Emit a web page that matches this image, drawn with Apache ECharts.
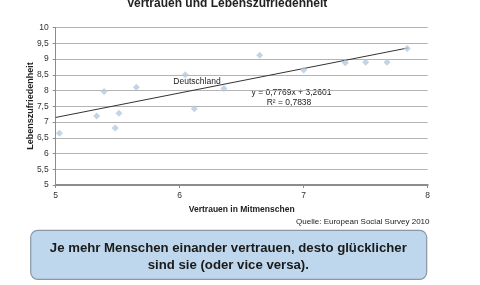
<!DOCTYPE html>
<html><head><meta charset="utf-8">
<script src="https://cdn.jsdelivr.net/npm/echarts@6/dist/echarts.min.js"></script>
<style>html,body{margin:0;padding:0;background:#fff}#c{width:480px;height:285px}</style>
</head><body><div id="c"></div>
<script>
const trustValues = [5.03, 5.33, 5.39, 5.51, 5.48, 5.65, 6.645, 6.045, 6.357, 6.118, 7.0, 7.335, 7.50, 7.672, 7.835];
const satisfactionValues = [6.64, 7.19, 7.97, 7.28, 6.81, 8.10, 9.12, 8.50, 8.06, 7.42, 8.65, 8.88, 8.90, 8.90, 9.33];
const xTicks = [5, 6, 7, 8];
const yTicks = [5, 5.5, 6, 6.5, 7, 7.5, 8, 8.5, 9, 9.5, 10];
const trendSlope = 0.7769, trendIntercept = 3.2601, rSquared = 0.7838;
const trendRange = [5, 7.84];
const titleText = 'Vertrauen und Lebenszufriedenheit';
const xName = 'Vertrauen in Mitmenschen';
const yName = 'Lebenszufriedenheit';
const sourceText = 'Quelle: European Social Survey 2010';
const highlightLabel = 'Deutschland';
const messageLines = ['Je mehr Menschen einander vertrauen, desto glücklicher', 'sind sie (oder vice versa).'];

const fmt = v => String(v).replace('.', ',');
const font = 'Liberation Sans, Arial, sans-serif';
const points = trustValues.map((x, i) => [x, satisfactionValues[i]]);
const trend = trendRange.map(x => [x, trendSlope * x + trendIntercept]);

const chart = echarts.init(document.getElementById('c'), null, {renderer: 'canvas'});
chart.setOption({
  animation: false,
  textStyle: {fontFamily: font},
  grid: {left: 55.7, right: 52.3, top: 27.5, bottom: 100},
  xAxis: {
    type: 'value', min: xTicks[0], max: xTicks[xTicks.length - 1], interval: 1,
    name: xName, nameLocation: 'middle', nameGap: 20,
    nameTextStyle: {fontSize: 8.5, fontWeight: 'bold', color: '#222', fontFamily: font},
    axisLine: {show: true, lineStyle: {color: '#8c8c8c', width: 2}},
    axisTick: {show: true, length: 3, lineStyle: {color: '#8c8c8c'}},
    axisLabel: {fontSize: 8.5, color: '#333', margin: 6, formatter: fmt},
    splitLine: {show: false}
  },
  yAxis: {
    type: 'value', min: yTicks[0], max: yTicks[yTicks.length - 1], interval: 0.5,
    axisLine: {show: true, lineStyle: {color: '#8c8c8c', width: 1}},
    axisTick: {show: true, length: 3, lineStyle: {color: '#8c8c8c'}},
    axisLabel: {fontSize: 8.5, color: '#333', margin: 7, formatter: fmt},
    splitLine: {show: true, lineStyle: {color: '#b4b4b4', width: 1}}
  },
  series: [
    {
      type: 'line', data: trend, symbol: 'none', silent: true,
      lineStyle: {color: '#333', width: 1}, z: 2
    },
    {
      type: 'scatter', data: points, symbol: 'diamond', symbolSize: 7,
      itemStyle: {color: '#b3c9de'}, z: 3
    }
  ],
  graphic: [
    {type: 'text', style: {x: 227, y: 9.5, text: titleText, align: 'center', verticalAlign: 'bottom', fill: '#222', font: 'bold 12px ' + font}},
    {type: 'text', x: 30.7, y: 106, rotation: Math.PI / 2, style: {x: 0, y: 0, text: yName, align: 'center', verticalAlign: 'middle', fill: '#222', font: 'bold 9px ' + font}},
    {type: 'text', style: {x: 197, y: 81.5, text: highlightLabel, align: 'center', verticalAlign: 'middle', fill: '#222', font: '8.5px ' + font}},
    {type: 'text', style: {x: 291.5, y: 92.5, text: 'y = ' + fmt(trendSlope) + 'x + ' + fmt(trendIntercept), align: 'center', verticalAlign: 'middle', fill: '#222', font: '8.5px ' + font}},
    {type: 'text', style: {x: 289, y: 102.5, text: 'R² = ' + fmt(rSquared), align: 'center', verticalAlign: 'middle', fill: '#222', font: '8.5px ' + font}},
    {type: 'text', style: {x: 429.5, y: 221.5, text: sourceText, align: 'right', verticalAlign: 'middle', fill: '#222', font: '8px ' + font}},
    {type: 'rect', shape: {x: 30.7, y: 230.3, width: 396, height: 49, r: 7}, style: {fill: '#bed7ec', stroke: '#8898a8', lineWidth: 1.2}},
    {type: 'text', style: {x: 228.3, y: 248.3, text: messageLines[0], align: 'center', verticalAlign: 'middle', fill: '#1a1a1a', font: 'bold 13.2px ' + font}},
    {type: 'text', style: {x: 228.3, y: 265, text: messageLines[1], align: 'center', verticalAlign: 'middle', fill: '#1a1a1a', font: 'bold 13.2px ' + font}}
  ]
});
</script></body></html>
